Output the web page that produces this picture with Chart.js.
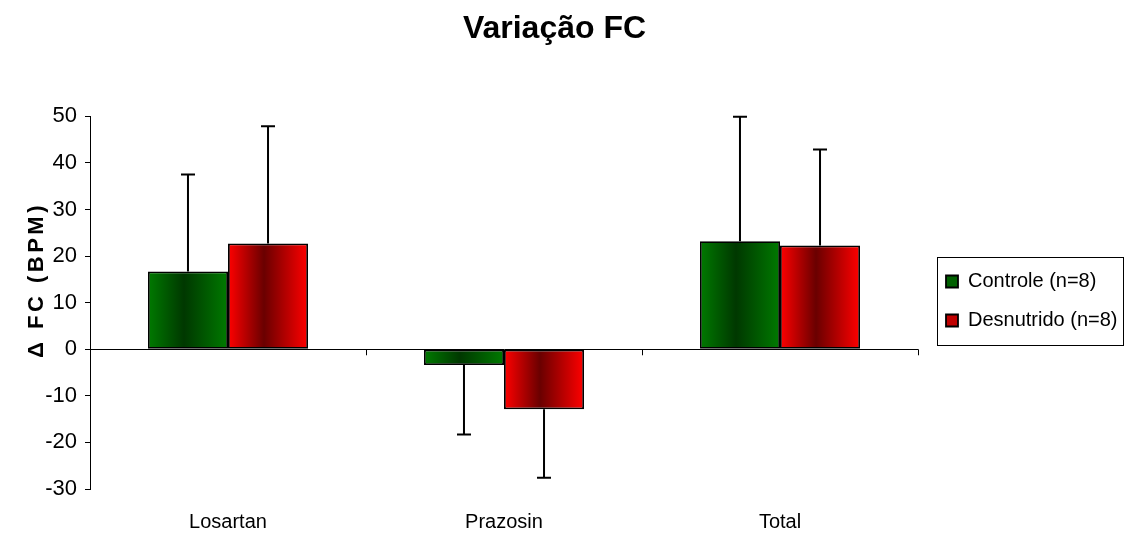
<!DOCTYPE html>
<html>
<head>
<meta charset="utf-8">
<script src="https://cdn.jsdelivr.net/npm/chart.js@4/dist/chart.umd.min.js"></script>
<style>
  html, body { margin: 0; padding: 0; background: #fff; }
  #wrap { width: 1129px; height: 538px; position: relative; }
</style>
</head>
<body>
<div id="wrap"><canvas id="fcChart"></canvas></div>
<script>
// values
const categories = ['Losartan', 'Prazosin', 'Total'];
const controle = [16.7, -3.4, 23.2];
const controleErr = [20.8, 14.9, 26.7];
const desnutrido = [22.7, -12.9, 22.3];
const desnutridoErr = [25.2, 14.7, 20.6];
const yTicks = [-30, -20, -10, 0, 10, 20, 30, 40, 50];

const FONT = '"Liberation Sans", Arial, sans-serif';

// colours for the shaded bars: [edge, middle]
const shades = [
  ['#007a00', '#003800'],
  ['#ff0000', '#6a0000']
];

// bars get a horizontal light-dark-light gradient
const gradientBars = {
  id: 'gradientBars',
  beforeDatasetsDraw(chart) {
    const ctx = chart.ctx;
    chart.data.datasets.forEach(function(ds, i) {
      const meta = chart.getDatasetMeta(i);
      meta.data.forEach(function(bar) {
        const x0 = bar.x - bar.width / 2;
        const g = ctx.createLinearGradient(x0, 0, x0 + bar.width, 0);
        g.addColorStop(0, shades[i][0]);
        g.addColorStop(0.45, shades[i][1]);
        g.addColorStop(1, shades[i][0]);
        // options are shared between bars, so give each its own copy
        bar.options = Object.assign({}, bar.options, { backgroundColor: g });
      });
    });
  }
};

// one-sided error bars, zero line ticks and the y title
const extras = {
  id: 'extras',
  afterLayout(chart) {
    // nudge the legend to where it sits in the picture
    const lg = chart.legend;
    lg.left += 9; lg.right += 9;
    lg.top += 32; lg.bottom += 32;
  },
  afterDatasetsDraw(chart) {
    const ctx = chart.ctx;
    const y = chart.scales.y;
    const x = chart.scales.x;
    const errs = [controleErr, desnutridoErr];

    ctx.save();
    ctx.strokeStyle = '#000';
    ctx.lineWidth = 2;
    chart.data.datasets.forEach(function(ds, i) {
      const meta = chart.getDatasetMeta(i);
      meta.data.forEach(function(bar, j) {
        const v = ds.data[j];
        const end = v >= 0 ? v + errs[i][j] : v - errs[i][j];
        const yv = y.getPixelForValue(v);
        const ye = y.getPixelForValue(end);
        ctx.beginPath();
        ctx.moveTo(bar.x, yv);
        ctx.lineTo(bar.x, ye);
        ctx.moveTo(bar.x - 7, ye);
        ctx.lineTo(bar.x + 7, ye);
        ctx.stroke();
      });
    });

    // category boundary ticks on the zero line
    const y0 = y.getPixelForValue(0);
    const step = (x.right - x.left) / categories.length;
    ctx.lineWidth = 1;
    ctx.beginPath();
    for (let k = 0; k <= categories.length; k++) {
      const px = Math.round(x.left + k * step) + 0.5;
      ctx.moveTo(px, y0);
      ctx.lineTo(px, y0 + 6);
    }
    ctx.stroke();
    ctx.restore();
  },
  afterDraw(chart) {
    const ctx = chart.ctx;
    ctx.save();
    // y axis title with wide letter spacing
    ctx.translate(37, 280);
    ctx.rotate(-Math.PI / 2);
    ctx.font = 'bold 22px ' + FONT;
    ctx.letterSpacing = '3.5px';
    ctx.fillStyle = '#000';
    ctx.textAlign = 'center';
    ctx.textBaseline = 'middle';
    ctx.fillText('\u0394 FC (BPM)', 0, 0);
    ctx.restore();

    // frame round the legend
    const boxes = chart.legend.legendHitBoxes;
    if (boxes && boxes.length) {
      ctx.save();
      ctx.strokeStyle = '#000';
      ctx.lineWidth = 1;
      ctx.strokeRect(937.5, 257.5, 186, 88);
      ctx.restore();
    }
  }
};

// fixed legend width so the plot ends where it does in the picture
const legendWidth = {
  id: 'legendWidth',
  beforeInit(chart) {
    const fit = chart.legend.fit;
    chart.legend.fit = function() {
      fit.call(this);
      this.width = 191;
    };
  }
};

const data = {
  labels: categories,
  datasets: [
    {
      label: 'Controle (n=8)',
      data: controle,
      backgroundColor: '#006000',
      borderColor: '#000',
      borderWidth: 1.8,
      borderSkipped: false
    },
    {
      label: 'Desnutrido (n=8)',
      data: desnutrido,
      backgroundColor: '#c00000',
      borderColor: '#000',
      borderWidth: 1.8,
      borderSkipped: false
    }
  ]
};

const config = {
  type: 'bar',
  data: data,
  options: {
    responsive: true,
    maintainAspectRatio: false,
    animation: false,
    categoryPercentage: 0.58,
    barPercentage: 1.0,
    layout: { padding: { left: 0, right: 20, top: 0, bottom: 0 } },
    plugins: {
      tooltip: { enabled: false },
      title: {
        display: true,
        text: 'Variação FC',
        color: '#000',
        font: { family: FONT, size: 32, weight: 'bold' },
        padding: { top: 10, bottom: 68 }
      },
      legend: {
        position: 'right',
        labels: {
          color: '#000',
          font: { family: FONT, size: 20 },
          boxWidth: 12,
          boxHeight: 12,
          padding: 19
        }
      }
    },
    scales: {
      x: {
        afterFit(scale) { scale.height = 49; },
        grid: { display: false, drawTicks: false },
        border: { display: false },
        ticks: { color: '#000', font: { family: FONT, size: 20 }, padding: 21 }
      },
      y: {
        min: -30,
        max: 50,
        afterFit(scale) { scale.width = 90; },
        afterBuildTicks(axis) {
          axis.ticks = yTicks.map(function(v) { return { value: v }; });
        },
        border: { display: true, color: '#000', width: 1 },
        grid: {
          color: function(c) { return c.tick && c.tick.value === 0 ? '#000' : 'rgba(0,0,0,0)'; },
          tickColor: '#000',
          tickLength: 5,
          lineWidth: 1
        },
        ticks: { color: '#000', font: { family: FONT, size: 22 }, padding: 8 }
      }
    }
  },
  plugins: [legendWidth, gradientBars, extras]
};

var fcChart = new Chart(document.getElementById('fcChart'), config);
</script>
</body>
</html>
